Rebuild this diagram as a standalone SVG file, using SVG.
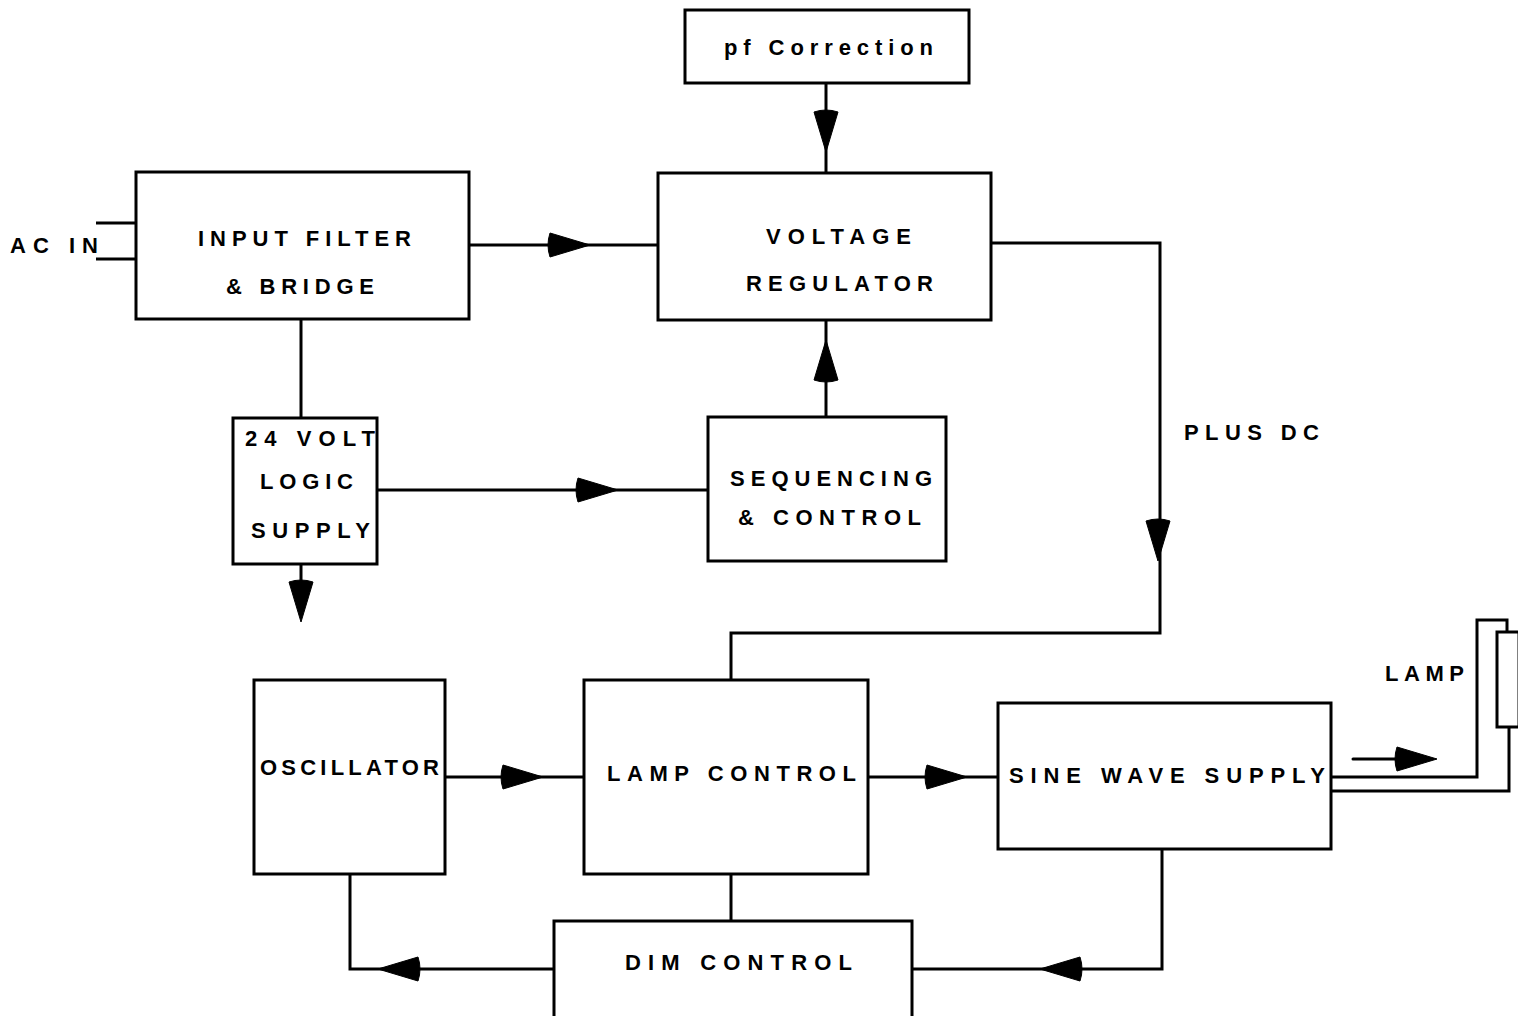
<svg xmlns="http://www.w3.org/2000/svg" xmlns:xlink="http://www.w3.org/1999/xlink" width="1518" height="1016" viewBox="0 0 1518 1016">
<style>
.box{fill:none;stroke:#000;stroke-width:3}
.wire{fill:none;stroke:#000;stroke-width:3;stroke-linejoin:miter}
.t{font-family:"Liberation Sans",Arial,sans-serif;font-weight:bold;font-size:22px;fill:#000}
</style>
<defs>
<path id="ah" d="M-40,-12 L0,0 L-40,12 Q-44,0 -40,-12 Z" fill="#000" stroke="#000" stroke-width="1" stroke-linejoin="round"/>
</defs>
<rect width="1518" height="1016" fill="#fff"/>

<g id="connectors">
<path class="wire" d="M826,83 V173"/>
<use xlink:href="#ah" transform="translate(826,152) rotate(90)"/>
<path class="wire" d="M96,223 H136 M96,259 H136"/>
<path class="wire" d="M469,245 H658"/>
<use xlink:href="#ah" transform="translate(590,245)"/>
<path class="wire" d="M991,243 H1160 V633 H731 V680"/>
<use xlink:href="#ah" transform="translate(1158,561) rotate(90)"/>
<path class="wire" d="M301,319 V418"/>
<path class="wire" d="M301,564 V600"/>
<use xlink:href="#ah" transform="translate(301,622) rotate(90)"/>
<path class="wire" d="M377,490 H708"/>
<use xlink:href="#ah" transform="translate(618,490)"/>
<path class="wire" d="M826,417 V320"/>
<use xlink:href="#ah" transform="translate(826,340) rotate(-90)"/>
<path class="wire" d="M445,777 H584"/>
<use xlink:href="#ah" transform="translate(543,777)"/>
<path class="wire" d="M868,777 H998"/>
<use xlink:href="#ah" transform="translate(967,777)"/>
<path class="wire" d="M1331,777 H1477 V620 H1507 V632"/>
<path class="wire" d="M1331,791 H1509 V727"/>
<path class="wire" d="M1353,759 H1405" stroke-width="5" stroke-linecap="round"/>
<use xlink:href="#ah" transform="translate(1437,759)"/>
<path class="wire" d="M731,874 V921"/>
<path class="wire" d="M1162,849 V969 H912"/>
<use xlink:href="#ah" transform="translate(1040,969) rotate(180)"/>
<path class="wire" d="M554,969 H350 V874"/>
<use xlink:href="#ah" transform="translate(378,969) rotate(180)"/>
</g>

<g id="pf-correction">
<rect class="box" x="685" y="10" width="284" height="73"/>
<text class="t" x="724" y="55" textLength="209" lengthAdjust="spacing">pf Correction</text>
</g>
<g id="ac-in">
<text class="t" x="10" y="253" textLength="88" lengthAdjust="spacing">AC IN</text>
</g>
<g id="input-filter">
<rect class="box" x="136" y="172" width="333" height="147"/>
<text class="t" x="198" y="246" textLength="213" lengthAdjust="spacing">INPUT FILTER</text>
<text class="t" x="226" y="294" textLength="148" lengthAdjust="spacing">&amp; BRIDGE</text>
</g>
<g id="voltage-regulator">
<rect class="box" x="658" y="173" width="333" height="147"/>
<text class="t" x="766" y="244" textLength="145" lengthAdjust="spacing">VOLTAGE</text>
<text class="t" x="746" y="291" textLength="187" lengthAdjust="spacing">REGULATOR</text>
</g>
<g id="plus-dc">
<text class="t" x="1184" y="440" textLength="135" lengthAdjust="spacing">PLUS DC</text>
</g>
<g id="logic-supply">
<rect class="box" x="233" y="418" width="144" height="146"/>
<text class="t" x="245" y="446" textLength="130" lengthAdjust="spacing">24 VOLT</text>
<text class="t" x="260" y="489" textLength="93" lengthAdjust="spacing">LOGIC</text>
<text class="t" x="251" y="538" textLength="119" lengthAdjust="spacing">SUPPLY</text>
</g>
<g id="sequencing">
<rect class="box" x="708" y="417" width="238" height="144"/>
<text class="t" x="730" y="486" textLength="202" lengthAdjust="spacing">SEQUENCING</text>
<text class="t" x="738" y="525" textLength="183" lengthAdjust="spacing">&amp; CONTROL</text>
</g>
<g id="oscillator">
<rect class="box" x="254" y="680" width="191" height="194"/>
<text class="t" x="260" y="775" textLength="179" lengthAdjust="spacing">OSCILLATOR</text>
</g>
<g id="lamp-control">
<rect class="box" x="584" y="680" width="284" height="194"/>
<text class="t" x="607" y="781" textLength="249" lengthAdjust="spacing">LAMP CONTROL</text>
</g>
<g id="sine-wave-supply">
<rect class="box" x="998" y="703" width="333" height="146"/>
<text class="t" x="1009" y="783" textLength="316" lengthAdjust="spacing">SINE WAVE SUPPLY</text>
</g>
<g id="lamp">
<rect class="box" x="1497" y="632" width="22" height="95"/>
<text class="t" x="1385" y="681" textLength="79" lengthAdjust="spacing">LAMP</text>
</g>
<g id="dim-control">
<rect class="box" x="554" y="921" width="358" height="110"/>
<text class="t" x="625" y="970" textLength="227" lengthAdjust="spacing">DIM CONTROL</text>
</g>
</svg>
